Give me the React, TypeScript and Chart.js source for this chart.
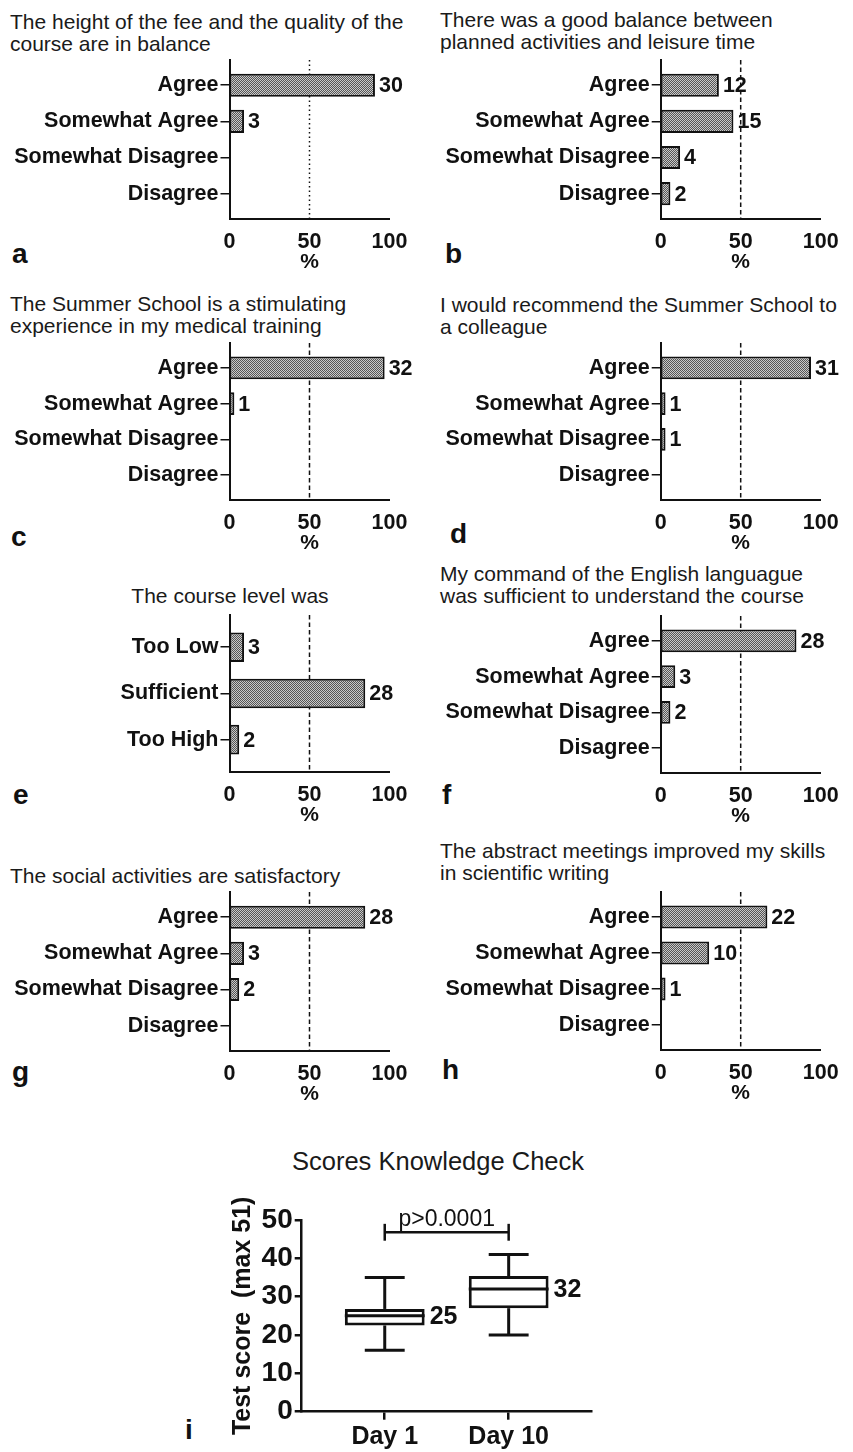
import React, { useEffect, useRef } from 'react';
import { Chart, registerables } from 'chart.js';

Chart.register(...registerables);

const FONT = '"Liberation Sans", Arial, Helvetica, sans-serif';
Chart.defaults.font.family = FONT;
Chart.defaults.color = '#111';

// ---------------- data ----------------
const TOTAL_RESPONDENTS = 33;
const AGREE_CATEGORIES = ['Agree', 'Somewhat Agree', 'Somewhat Disagree', 'Disagree'];
const LEVEL_CATEGORIES = ['Too Low', 'Sufficient', 'Too High'];

const countsFee = [30, 3, 0, 0];
const countsBalance = [12, 15, 4, 2];
const countsStimulating = [32, 1, 0, 0];
const countsRecommend = [31, 1, 1, 0];
const countsLevel = [3, 28, 2];
const countsEnglish = [28, 3, 2, 0];
const countsSocial = [28, 3, 2, 0];
const countsAbstract = [22, 10, 1, 0];

const PERCENT_TICKS = [0, 50, 100];
const REFERENCE_PERCENT = 50;

const DAYS = ['Day 1', 'Day 10'];
const scoreMin = [16, 20];
const scoreQ1 = [22.5, 27];
const scoreMedian = [25, 32];
const scoreQ3 = [26.8, 35.4];
const scoreMax = [35, 41];
const SCORE_TICKS = [0, 10, 20, 30, 40, 50];
const SIGNIFICANCE_TEXT = 'p>0.0001';
const SIGNIFICANCE_LEVEL = 46.8;

// ---------------- panels ----------------
type BarSpec = {
  id: string;
  title: string[];
  titleLeft: number;
  titleTop: number;
  titleCenter?: boolean;
  letter: string;
  letterLeft: number;
  letterTop: number;
  cats: string[];
  counts: number[];
  col: number;
  axisTop: number;
  axisBottom: number;
  dotted?: boolean;
};

const PANELS: BarSpec[] = [
  { id: 'a', title: ['The height of the fee and the quality of the', 'course are in balance'], titleLeft: 10, titleTop: 10.5, letter: 'a', letterLeft: 12, letterTop: 239.5, cats: AGREE_CATEGORIES, counts: countsFee, col: 0, axisTop: 59, axisBottom: 219, dotted: true },
  { id: 'b', title: ['There was a good balance between', 'planned activities and leisure time'], titleLeft: 440, titleTop: 9, letter: 'b', letterLeft: 445, letterTop: 239.5, cats: AGREE_CATEGORIES, counts: countsBalance, col: 1, axisTop: 59, axisBottom: 219 },
  { id: 'c', title: ['The Summer School is a stimulating', 'experience in my medical training'], titleLeft: 10, titleTop: 293, letter: 'c', letterLeft: 11, letterTop: 523, cats: AGREE_CATEGORIES, counts: countsStimulating, col: 0, axisTop: 342, axisBottom: 500 },
  { id: 'd', title: ['I would recommend the Summer School to', 'a colleague'], titleLeft: 440, titleTop: 294, letter: 'd', letterLeft: 450, letterTop: 520, cats: AGREE_CATEGORIES, counts: countsRecommend, col: 1, axisTop: 342, axisBottom: 500 },
  { id: 'e', title: ['The course level was'], titleLeft: 230, titleTop: 585, titleCenter: true, letter: 'e', letterLeft: 13, letterTop: 781, cats: LEVEL_CATEGORIES, counts: countsLevel, col: 0, axisTop: 614, axisBottom: 772 },
  { id: 'f', title: ['My command of the English languague', 'was sufficient to understand the course'], titleLeft: 440, titleTop: 562.5, letter: 'f', letterLeft: 442, letterTop: 781, cats: AGREE_CATEGORIES, counts: countsEnglish, col: 1, axisTop: 615, axisBottom: 773 },
  { id: 'g', title: ['The social activities are satisfactory'], titleLeft: 10, titleTop: 865, letter: 'g', letterLeft: 12, letterTop: 1058, cats: AGREE_CATEGORIES, counts: countsSocial, col: 0, axisTop: 891, axisBottom: 1051 },
  { id: 'h', title: ['The abstract meetings improved my skills', 'in scientific writing'], titleLeft: 440, titleTop: 840, letter: 'h', letterLeft: 442, letterTop: 1056, cats: AGREE_CATEGORIES, counts: countsAbstract, col: 1, axisTop: 891, axisBottom: 1050 },
];

const INK = '#111';

function makeHatch(): CanvasPattern | string {
  const c = document.createElement('canvas');
  c.width = 2;
  c.height = 2;
  const x = c.getContext('2d');
  if (!x) return '#8a8a8a';
  x.fillStyle = '#c9c9c9';
  x.fillRect(0, 0, 2, 2);
  x.fillStyle = '#555';
  x.fillRect(0, 0, 1, 1);
  x.fillRect(1, 1, 1, 1);
  const p = x.createPattern(c, 'repeat');
  return p || '#8a8a8a';
}

function BarPanel({ spec }: { spec: BarSpec }) {
  const ref = useRef<HTMLCanvasElement>(null);
  const colLeft = spec.col === 0 ? 0 : 430;
  const width = spec.col === 0 ? 420 : 423;
  const axisX = spec.col === 0 ? 229.5 : 660.7;
  const plotW = 160;
  const yW = axisX - colLeft;
  const padR = width - yW - plotW;
  const padTop = 14;
  const XH = 56;
  const top = spec.axisTop - padTop;
  const height = padTop + (spec.axisBottom - spec.axisTop) + XH;

  useEffect(() => {
    if (!ref.current) return;
    const n = spec.cats.length;
    const refLine = {
      id: 'refLine',
      beforeDatasetsDraw(chart: any) {
        const { ctx, chartArea, scales } = chart;
        const px = scales.x.getPixelForValue(REFERENCE_PERCENT);
        ctx.save();
        ctx.strokeStyle = INK;
        ctx.lineWidth = 1.5;
        ctx.setLineDash(spec.dotted ? [1.5, 3] : [4.5, 3]);
        ctx.beginPath();
        ctx.moveTo(px, chartArea.top);
        ctx.lineTo(px, chartArea.bottom);
        ctx.stroke();
        ctx.restore();
      },
    };
    const valueLabels = {
      id: 'valueLabels',
      afterDatasetsDraw(chart: any) {
        const { ctx } = chart;
        const meta = chart.getDatasetMeta(0);
        ctx.save();
        ctx.font = `bold 21.5px ${FONT}`;
        ctx.fillStyle = INK;
        ctx.textAlign = 'left';
        ctx.textBaseline = 'middle';
        meta.data.forEach((el: any, i: number) => {
          const c = spec.counts[i];
          if (!c) return;
          ctx.fillText(String(c), el.x + 4, el.y + 1);
        });
        ctx.restore();
      },
    };
    const chart = new Chart(ref.current, {
      type: 'bar',
      data: {
        datasets: [
          {
            data: spec.counts.map((c, i) => ({ x: (c / TOTAL_RESPONDENTS) * 100, y: i })),
            backgroundColor: makeHatch() as any,
            borderColor: INK,
            borderWidth: 2,
            borderSkipped: false,
            barPercentage: 0.64,
            categoryPercentage: 1,
          },
        ],
      },
      options: {
        indexAxis: 'y',
        animation: false,
        responsive: false,
        events: [],
        layout: { padding: { top: padTop, right: padR, left: 0, bottom: 0 } },
        plugins: { legend: { display: false }, tooltip: { enabled: false } },
        scales: {
          y: {
            type: 'linear',
            reverse: true,
            offset: false,
            min: -0.7,
            max: n - 0.3,
            afterBuildTicks: (s: any) => {
              s.ticks = spec.cats.map((_, i) => ({ value: i }));
            },
            afterFit: (s: any) => {
              s.width = yW;
            },
            ticks: {
              autoSkip: false,
              padding: 2,
              color: INK,
              font: { size: 21.5, weight: 'bold' },
              callback: (v: any) => spec.cats[v] ?? '',
            },
            grid: { display: true, offset: false, drawOnChartArea: false, drawTicks: true, tickLength: 9, color: INK, lineWidth: 1.5 },
            border: { display: true, color: INK, width: 2 },
          },
          x: {
            type: 'linear',
            position: 'bottom',
            min: 0,
            max: 100,
            afterBuildTicks: (s: any) => {
              s.ticks = PERCENT_TICKS.map((v) => ({ value: v }));
            },
            afterFit: (s: any) => {
              s.height = XH;
            },
            ticks: { padding: 10, maxRotation: 0, color: INK, font: { size: 21.5, weight: 'bold' } },
            grid: { display: false, drawTicks: false },
            border: { display: true, color: INK, width: 2 },
            title: { display: true, text: '%', color: INK, font: { size: 21, weight: 'bold' }, padding: { top: 0, bottom: 0 } },
          },
        },
      } as any,
      plugins: [refLine, valueLabels],
    });
    return () => chart.destroy();
  }, []);

  return (
    <canvas
      ref={ref}
      width={width}
      height={height}
      style={{ position: 'absolute', left: colLeft, top, width, height }}
    />
  );
}

function BoxPanel() {
  const ref = useRef<HTMLCanvasElement>(null);
  const left = 180;
  const top = 1140;
  const width = 440;
  const height = 312;
  const yW = 121.7;
  const plotW = 290;
  const padTop = 80;
  const XH = 40.3;

  useEffect(() => {
    if (!ref.current) return;
    const whiskers = {
      id: 'whiskers',
      afterDatasetsDraw(chart: any) {
        const { ctx, scales } = chart;
        const xs = scales.x;
        const ys = scales.y;
        const meta = chart.getDatasetMeta(0);
        ctx.save();
        ctx.strokeStyle = INK;
        ctx.lineWidth = 3;
        const line = (x1: number, y1: number, x2: number, y2: number) => {
          ctx.beginPath();
          ctx.moveTo(x1, y1);
          ctx.lineTo(x2, y2);
          ctx.stroke();
        };
        DAYS.forEach((_, i) => {
          const el = meta.data[i];
          const cx = xs.getPixelForValue(i);
          const half = el.width / 2;
          const cap = half / 2;
          const pMin = ys.getPixelForValue(scoreMin[i]);
          const pQ1 = ys.getPixelForValue(scoreQ1[i]);
          const pMed = ys.getPixelForValue(scoreMedian[i]);
          const pQ3 = ys.getPixelForValue(scoreQ3[i]);
          const pMax = ys.getPixelForValue(scoreMax[i]);
          line(cx, pQ3, cx, pMax);
          line(cx - cap, pMax, cx + cap, pMax);
          line(cx, pQ1, cx, pMin);
          line(cx - cap, pMin, cx + cap, pMin);
          line(cx - half, pMed, cx + half, pMed);
          ctx.font = `bold 25px ${FONT}`;
          ctx.fillStyle = INK;
          ctx.textAlign = 'left';
          ctx.textBaseline = 'middle';
          ctx.fillText(String(scoreMedian[i]), cx + half + 5, pMed + 1);
        });
        const x0 = xs.getPixelForValue(0);
        const x1 = xs.getPixelForValue(1);
        const yb = ys.getPixelForValue(SIGNIFICANCE_LEVEL);
        const yTop = ys.getPixelForValue(SIGNIFICANCE_LEVEL + 2.2);
        const yBot = ys.getPixelForValue(SIGNIFICANCE_LEVEL - 2.2);
        ctx.lineWidth = 2.5;
        line(x0, yb, x1, yb);
        line(x0, yTop, x0, yBot);
        line(x1, yTop, x1, yBot);
        ctx.font = `23px ${FONT}`;
        ctx.textAlign = 'center';
        ctx.textBaseline = 'alphabetic';
        ctx.fillText(SIGNIFICANCE_TEXT, (x0 + x1) / 2, yb - 6);
        ctx.restore();
      },
    };
    const chart = new Chart(ref.current, {
      type: 'bar',
      data: {
        datasets: [
          {
            data: DAYS.map((_, i) => ({ x: i, y: [scoreQ1[i], scoreQ3[i]] })),
            backgroundColor: '#ffffff',
            borderColor: INK,
            borderWidth: 3,
            borderSkipped: false,
            barPercentage: 0.644,
            categoryPercentage: 1,
          },
        ],
      },
      options: {
        animation: false,
        responsive: false,
        events: [],
        layout: { padding: { top: padTop, right: width - yW - plotW, left: 0, bottom: 0 } },
        plugins: { legend: { display: false }, tooltip: { enabled: false } },
        scales: {
          x: {
            type: 'linear',
            offset: false,
            min: -0.67,
            max: 1.67,
            afterBuildTicks: (s: any) => {
              s.ticks = DAYS.map((_, i) => ({ value: i }));
            },
            afterFit: (s: any) => {
              s.height = XH;
            },
            ticks: { padding: 2, maxRotation: 0, autoSkip: false, color: INK, font: { size: 25, weight: 'bold' }, callback: (v: any) => DAYS[v] ?? '' },
            grid: { display: true, offset: false, drawOnChartArea: false, drawTicks: true, tickLength: 8, color: INK, lineWidth: 2.5 },
            border: { display: true, color: INK, width: 2.5 },
          },
          y: {
            type: 'linear',
            min: 0,
            max: 50,
            afterBuildTicks: (s: any) => {
              s.ticks = SCORE_TICKS.map((v) => ({ value: v }));
            },
            afterFit: (s: any) => {
              s.width = yW;
            },
            ticks: { padding: 2, color: INK, font: { size: 28, weight: 'bold' } },
            grid: { display: true, drawOnChartArea: false, drawTicks: true, tickLength: 7, color: INK, lineWidth: 2.5 },
            border: { display: true, color: INK, width: 2.5 },
            title: { display: true, text: 'Test score  (max 51)', color: INK, font: { size: 25, weight: 'bold' }, padding: { top: 48, bottom: 0 } },
          },
        },
      } as any,
      plugins: [whiskers],
    });
    return () => chart.destroy();
  }, []);

  return (
    <canvas
      ref={ref}
      width={width}
      height={height}
      style={{ position: 'absolute', left, top, width, height }}
    />
  );
}

const titleStyle: React.CSSProperties = {
  position: 'absolute',
  font: `21px ${FONT}`,
  lineHeight: '22px',
  color: '#1a1a1a',
  whiteSpace: 'nowrap',
};

const letterStyle: React.CSSProperties = {
  position: 'absolute',
  font: `bold 28px ${FONT}`,
  lineHeight: '28px',
  color: '#111',
};

export default function App() {
  return (
    <div
      style={{
        position: 'absolute',
        left: 0,
        top: 0,
        width: 853,
        height: 1452,
        background: '#fff',
        overflow: 'hidden',
      }}
    >
      {PANELS.map((p) => (
        <React.Fragment key={p.id}>
          <div
            style={{
              ...titleStyle,
              left: p.titleLeft,
              top: p.titleTop,
              transform: p.titleCenter ? 'translateX(-50%)' : undefined,
              textAlign: p.titleCenter ? 'center' : 'left',
            }}
          >
            {p.title.map((t, i) => (
              <div key={i}>{t}</div>
            ))}
          </div>
          <div style={{ ...letterStyle, left: p.letterLeft, top: p.letterTop }}>{p.letter}</div>
          <BarPanel spec={p} />
        </React.Fragment>
      ))}
      <div
        style={{
          position: 'absolute',
          left: 438,
          top: 1148,
          transform: 'translateX(-50%)',
          font: `25.5px ${FONT}`,
          lineHeight: '26px',
          color: '#1a1a1a',
          whiteSpace: 'nowrap',
        }}
      >
        Scores Knowledge Check
      </div>
      <div style={{ ...letterStyle, left: 185, top: 1416 }}>i</div>
      <BoxPanel />
    </div>
  );
}
